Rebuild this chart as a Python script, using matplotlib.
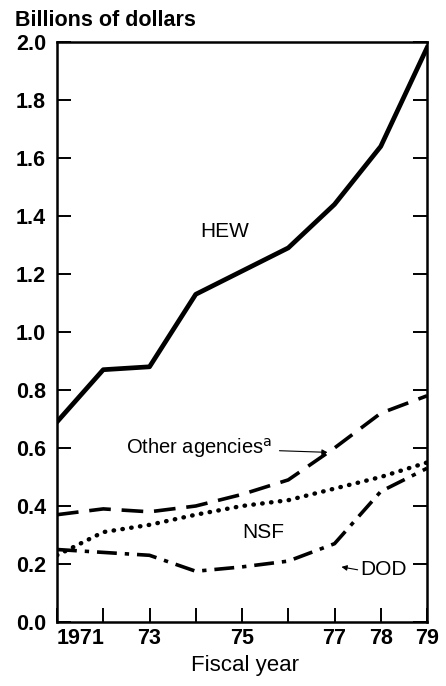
import matplotlib
matplotlib.use("Agg")
import matplotlib.pyplot as plt

plt.rcParams['font.family'] = ['Liberation Sans', 'DejaVu Sans']

years = [1971, 1972, 1973, 1974, 1975, 1976, 1977, 1978, 1979]
hew = [0.69, 0.87, 0.88, 1.13, 1.21, 1.29, 1.44, 1.64, 1.98]
other = [0.37, 0.39, 0.38, 0.40, 0.44, 0.49, 0.60, 0.72, 0.78]
nsf = [0.23, 0.31, 0.335, 0.37, 0.40, 0.42, 0.46, 0.50, 0.55]
dod = [0.25, 0.24, 0.23, 0.175, 0.19, 0.21, 0.27, 0.45, 0.53]

xtick_labels = ['1971', '', '73', '', '75', '', '77', '78', '79']
ytick_vals = [0.0, 0.2, 0.4, 0.6, 0.8, 1.0, 1.2, 1.4, 1.6, 1.8, 2.0]
ytick_labels = ['0.0', '0.2', '0.4', '0.6', '0.8', '1.0', '1.2', '1.4', '1.6', '1.8', '2.0']

fig = plt.figure(figsize=(4.46, 6.86), dpi=100)
ax = fig.add_axes([57/446, 64/686, 370/446, 580/686])

ax.plot(years, hew, color='black', lw=3.4, solid_joinstyle='round')
ax.plot(years, other, color='black', lw=2.6, dashes=(6, 3.0))
ax.plot(years, nsf, color='black', lw=3.2, dashes=(0.1, 1.9), dash_capstyle='round')
ax.plot(years, dod, color='black', lw=2.6, dashes=(5.5, 2.2, 1.2, 2.2))

ax.set_xlim(1971, 1979)
ax.set_ylim(0, 2.0)
ax.set_xticks(years)
ax.set_xticklabels(xtick_labels)
ax.set_yticks(ytick_vals)
ax.set_yticklabels(ytick_labels)

for s in ax.spines.values():
    s.set_linewidth(1.8)
ax.tick_params(axis='both', direction='in', length=10, width=1.4, labelsize=15.5)
ax.tick_params(axis='y', right=True, pad=8)
ax.tick_params(axis='x', pad=4)
for lab in ax.get_xticklabels() + ax.get_yticklabels():
    lab.set_fontweight('bold')
ax.get_xticklabels()[0].set_horizontalalignment('left')

ax.text(1974.63, 1.345, 'HEW', ha='center', va='center', fontsize=15)
ax.text(1975.45, 0.307, 'NSF', ha='center', va='center', fontsize=15)
ax.text(1978.05, 0.18, 'DOD', ha='center', va='center', fontsize=15)
ax.annotate('Other agencies$^{\\mathrm{a}}$', xy=(1976.85, 0.585), xytext=(1972.5, 0.60),
            ha='left', va='center', fontsize=14.5,
            arrowprops=dict(arrowstyle='-|>', color='black', lw=0.8, mutation_scale=8,
                            shrinkA=3, shrinkB=0))
ax.annotate('', xy=(1977.15, 0.19), xytext=(1977.5, 0.18),
            arrowprops=dict(arrowstyle='-|>', color='black', lw=0.8, mutation_scale=8,
                            shrinkA=0, shrinkB=0))

fig.text(15/446, 1 - 20/686, 'Billions of dollars', ha='left', va='center',
         fontsize=15.5, fontweight='bold')
fig.text(245/446, 1 - 665/686, 'Fiscal year', ha='center', va='center', fontsize=16)

fig.savefig('out.png', dpi=100)
